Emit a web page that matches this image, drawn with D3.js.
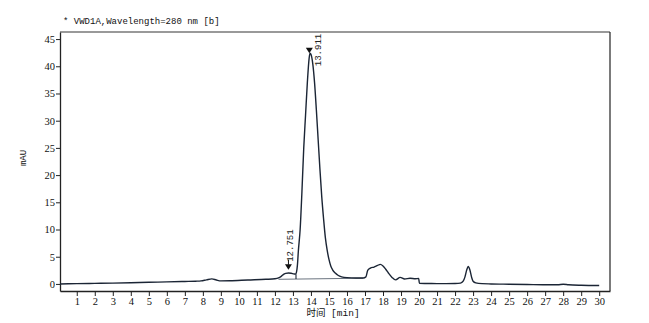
<!DOCTYPE html>
<html>
<head>
<meta charset="utf-8">
<script src="https://cdn.jsdelivr.net/npm/d3@7"></script>
<style>
  body { margin: 0; background: #fff; }
  svg { display: block; }
</style>
</head>
<body>
<svg id="chart" width="649" height="323"></svg>
<script>
// chromatogram trace (min, mAU)
var traceTime = [0.07, 1, 2, 3, 4, 5, 6, 7, 7.6, 7.9, 8.2, 8.5, 8.75, 9.0, 9.5, 10.5, 11.5, 12.0, 12.2, 12.35,
  12.5, 12.6, 12.75, 12.9, 13.05, 13.15, 13.2, 13.25, 13.3, 13.4, 13.5, 13.6, 13.7, 13.8, 13.9, 13.95, 14.0,
  14.1, 14.2, 14.3, 14.4, 14.5, 14.6, 14.7, 14.8, 14.9, 15.0, 15.1, 15.2, 15.35, 15.5, 15.7, 16.0, 16.5, 16.9,
  17.05, 17.15, 17.3, 17.5, 17.7, 17.85, 18.0, 18.15, 18.3, 18.5, 18.7, 18.95, 19.2, 19.5, 19.8, 19.98, 20.02,
  20.5, 21, 21.5, 22.0, 22.3, 22.45, 22.55, 22.65, 22.73, 22.82, 22.92, 23.0, 23.15, 23.5, 24, 25, 26, 27,
  27.7, 28.0, 28.3, 29, 30];
var traceMAU = [0.0, 0.05, 0.1, 0.15, 0.22, 0.3, 0.37, 0.45, 0.5, 0.56, 0.75, 0.92, 0.72, 0.56, 0.58, 0.72, 0.85, 0.95, 1.1, 1.4,
  1.8, 1.95, 2.0, 1.95, 1.85, 1.8, 2.2, 3.5, 6, 10, 17, 25, 31, 37, 41.5, 42.4, 42.2,
  40.5, 37, 32, 26.5, 21, 16, 12, 8.5, 6.2, 4.5, 3.3, 2.6, 2.0, 1.6, 1.3, 1.15, 1.1, 1.1,
  1.3, 2.5, 2.9, 3.1, 3.4, 3.6, 3.3, 2.7, 2.0, 1.2, 0.75, 1.2, 0.9, 1.05, 0.95, 1.0, 0.1,
  0.08, 0.05, 0.05, 0.07, 0.15, 0.5, 1.3, 2.6, 3.2, 2.6, 1.2, 0.5, 0.2, 0.05, 0.0, -0.05, -0.1, -0.15,
  -0.15, -0.05, -0.15, -0.25, -0.3];

// integration baseline and drop line
var baseTime = [12.2, 16.9];
var baseMAU = [0.85, 1.05];
var dropTime = 13.17;
var dropTop = 1.8;

// labelled peaks
var peakTime = [12.751, 13.911];
var peakMark = [2.6, 42.4];
var peakLabel = ["12.751", "13.911"];

var xTicks = d3.range(1, 31);
var yTicks = [0, 5, 10, 15, 20, 25, 30, 35, 40, 45];

var svg = d3.select("#chart");
var plotL = 60, plotR = 610, plotT = 32, plotB = 291;

var x = d3.scaleLinear().domain([0.07, 30.6]).range([plotL, plotR]);
var y = d3.scaleLinear().domain([-1.3, 46.3]).range([plotB, plotT]);

// frame
svg.append("line").attr("x1", plotL).attr("x2", plotR).attr("y1", plotT).attr("y2", plotT)
  .attr("stroke", "#777").attr("stroke-width", 1.5);
svg.append("line").attr("x1", plotR).attr("x2", plotR).attr("y1", plotT).attr("y2", plotB)
  .attr("stroke", "#222").attr("stroke-width", 1.2);

var xAxis = svg.append("g")
  .attr("transform", "translate(0," + plotB + ")")
  .call(d3.axisBottom(x).tickValues(xTicks).tickSize(5).tickSizeOuter(0).tickFormat(d3.format("d")));
var yAxis = svg.append("g")
  .attr("transform", "translate(" + plotL + ",0)")
  .call(d3.axisLeft(y).tickValues(yTicks).tickSize(4).tickSizeOuter(0).tickFormat(d3.format("d")));

[xAxis, yAxis].forEach(function(g) {
  g.select(".domain").attr("stroke", "#222").attr("stroke-width", 1.3);
  g.selectAll(".tick line").attr("stroke", "#222");
  g.selectAll(".tick text").attr("fill", "#111")
    .style("font-family", "'Liberation Serif', serif").style("font-size", "10.5px");
});
xAxis.selectAll(".tick text").attr("dy", "0.71em").attr("y", 7);
yAxis.selectAll(".tick text").attr("x", -5);

// baseline + drop line
var line = d3.line().x(function(d) { return x(d[0]); }).y(function(d) { return y(d[1]); });
svg.append("path")
  .attr("d", line(d3.zip(baseTime, baseMAU)))
  .attr("fill", "none").attr("stroke", "#6b7480").attr("stroke-width", 1);
var dropBase = d3.scaleLinear().domain(baseTime).range(baseMAU)(dropTime);
svg.append("line")
  .attr("x1", x(dropTime)).attr("x2", x(dropTime))
  .attr("y1", y(dropBase))
  .attr("y2", y(dropTop))
  .attr("stroke", "#1b2535").attr("stroke-width", 1.1);

// trace
var trace = d3.line()
  .x(function(d) { return x(d[0]); })
  .y(function(d) { return y(d[1]); })
  .curve(d3.curveMonotoneX);
svg.append("path")
  .attr("d", trace(d3.zip(traceTime, traceMAU)))
  .attr("fill", "none").attr("stroke", "#1b2535").attr("stroke-width", 1.4)
  .attr("stroke-linejoin", "round");

// peak markers
var peaks = svg.append("g").selectAll("g")
  .data(d3.zip(peakTime, peakMark, peakLabel))
  .enter().append("g")
  .attr("transform", function(d) { return "translate(" + x(d[0]) + "," + y(d[1]) + ")"; });
peaks.append("path").attr("d", "M0,0L-3.5,-5.5L3.5,-5.5Z").attr("fill", "#111");
peaks.filter(function(d, i) { return i === 0; })
  .append("line").attr("x1", 0).attr("x2", 0).attr("y1", -5).attr("y2", -10)
  .attr("stroke", "#111");

// peak labels, rotated to read upward
var labelFont = "'Liberation Mono', monospace";
svg.append("text")
  .attr("transform", "translate(" + (x(peakTime[0]) + 4.5) + "," + (y(peakMark[0]) - 8) + ") rotate(-90)")
  .style("font-family", labelFont).style("font-size", "9px").attr("fill", "#222")
  .text(peakLabel[0]);
svg.append("text")
  .attr("transform", "translate(" + (x(peakTime[1]) + 11.5) + "," + (y(peakMark[1]) + 13) + ") rotate(-90)")
  .style("font-family", labelFont).style("font-size", "9px").attr("fill", "#222")
  .text(peakLabel[1]);

// titles
svg.append("text").attr("x", 63).attr("y", 24)
  .style("font-family", labelFont).style("font-size", "9px").attr("fill", "#111")
  .text("* VWD1A,Wavelength=280 nm [b]");
svg.append("text").attr("x", 333).attr("y", 316)
  .attr("text-anchor", "middle")
  .style("font-family", "'Liberation Mono', 'Noto Sans CJK SC', monospace").style("font-size", "9.5px").attr("fill", "#111")
  .text("时间 [min]");
svg.append("text")
  .attr("transform", "translate(26,158) rotate(-90)")
  .attr("text-anchor", "middle")
  .style("font-family", labelFont).style("font-size", "9px").attr("fill", "#111")
  .text("mAU");
</script>
</body>
</html>
